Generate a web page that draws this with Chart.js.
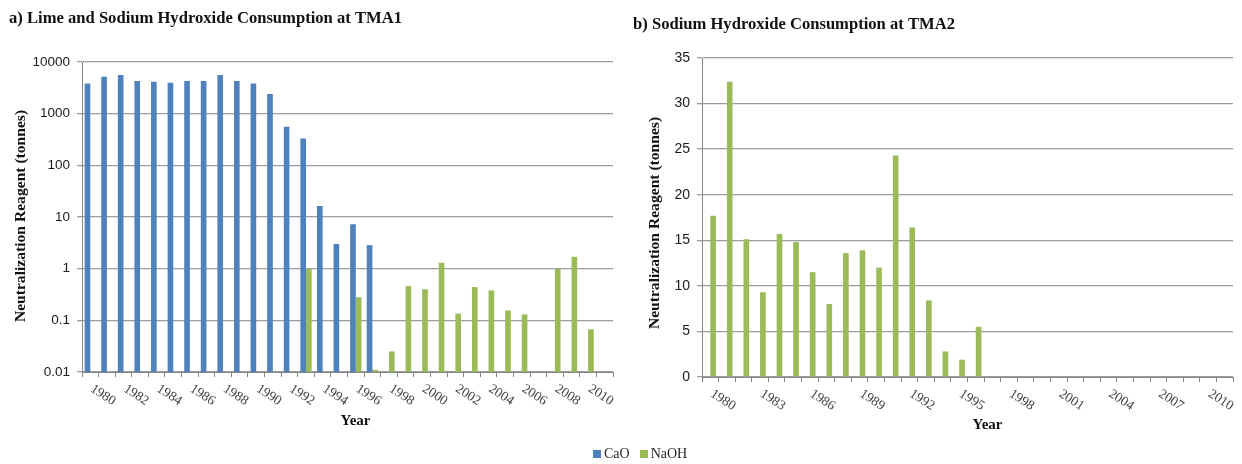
<!DOCTYPE html>
<html>
<head>
<meta charset="utf-8">
<script src="https://cdn.jsdelivr.net/npm/chart.js@4.4.1/dist/chart.umd.min.js"></script>
<style>
  html, body { margin: 0; padding: 0; background: #fff; }
  #page { position: relative; width: 1242px; height: 464px; overflow: hidden; }
  #boxA { position: absolute; left: 0; top: 0; width: 620px; height: 464px; }
  #boxB { position: absolute; left: 620px; top: 0; width: 622px; height: 464px; }
  #legend { position: absolute; left: 593px; top: 446px; height: 16px; display: flex; align-items: center;
            font: 14px "Liberation Serif", serif; color: #262626; }
  .key { display: flex; align-items: center; margin-right: 10px; }
  .sw { width: 8px; height: 8px; margin-right: 3px; }
</style>
</head>
<body>
<div id="page">
  <div id="boxA"><canvas id="chartA" width="620" height="464"></canvas></div>
  <div id="boxB"><canvas id="chartB" width="622" height="464"></canvas></div>
  <div id="legend"></div>
</div>
<script>
// Years on both category axes (1980 - 2011)
const years = [1980, 1981, 1982, 1983, 1984, 1985, 1986, 1987, 1988, 1989,
               1990, 1991, 1992, 1993, 1994, 1995, 1996, 1997, 1998, 1999,
               2000, 2001, 2002, 2003, 2004, 2005, 2006, 2007, 2008, 2009,
               2010, 2011];

const seriesNames = ['CaO', 'NaOH'];

// TMA1: lime (CaO) consumption, tonnes
const caoTMA1 = [3850, 5200, 5600, 4300, 4150, 3950, 4300, 4300, 5600, 4300,
                 3850, 2400, 560, 330, 16.4, 3.0, 7.2, 2.85, null, null,
                 null, null, null, null, null, null, null, null, null, null,
                 null, null];

// TMA1: sodium hydroxide (NaOH) consumption, tonnes
const naohTMA1 = [null, null, null, null, null, null, null, null, null, null,
                  null, null, null, 1.0, null, null, 0.28, 0.011, 0.025, 0.46,
                  0.40, 1.3, 0.135, 0.44, 0.38, 0.155, 0.13, null, 1.0, 1.7,
                  0.067, null];

// TMA2: no lime used, sodium hydroxide only
const caoTMA2 = [];
const naohTMA2 = [17.7, 32.4, 15.1, 9.3, 15.7, 14.8, 11.5, 8.0, 13.6, 13.9,
                  12.0, 24.3, 16.4, 8.4, 2.8, 1.9, 5.5, null, null, null,
                  null, null, null, null, null, null, null, null, null, null,
                  null, null];

// Axis tick labels
const yTicksTMA1 = [0.01, 0.1, 1, 10, 100, 1000, 10000];
const yTickTextTMA1 = ['0.01', '0.1', '1', '10', '100', '1000', '10000'];
const xTicksTMA1 = [1980, 1982, 1984, 1986, 1988, 1990, 1992, 1994, 1996, 1998,
                    2000, 2002, 2004, 2006, 2008, 2010];
const xTicksTMA2 = [1980, 1983, 1986, 1989, 1992, 1995, 1998, 2001, 2004, 2007, 2010];

const COLORS = { CaO: '#4F81BD', NaOH: '#9BBB59' };
const GRID = '#9c9c9c';
const AXIS = '#868686';

// Headings, axis titles and slanted year labels for each panel
const panelText = {
  chartA: {
    heading: 'a) Lime and Sodium Hydroxide Consumption at TMA1', headingX: 9, headingY: 19,
    yTitle: 'Neutralization Reagent (tonnes)', yTitleX: 21, yTitleY: 216,
    xTitle: 'Year', xTitleShift: 8, xTitleY: 421,
    tickYears: xTicksTMA1
  },
  chartB: {
    heading: 'b) Sodium Hydroxide Consumption at TMA2', headingX: 13, headingY: 25,
    yTitle: 'Neutralization Reagent (tonnes)', yTitleX: 35, yTitleY: 223,
    xTitle: 'Year', xTitleShift: 20, xTitleY: 425,
    tickYears: xTicksTMA2
  }
};

const panelTextPlugin = {
  id: 'panelText',
  afterDraw(chart) {
    const t = panelText[chart.canvas.id];
    const { ctx, chartArea: a } = chart;
    const x = chart.scales.x;
    ctx.save();
    ctx.fillStyle = '#111';

    ctx.font = 'bold 16.6px "Liberation Serif"';
    ctx.textAlign = 'left';
    ctx.textBaseline = 'middle';
    ctx.fillText(t.heading, t.headingX, t.headingY);

    ctx.save();
    ctx.translate(t.yTitleX, t.yTitleY);
    ctx.rotate(-Math.PI / 2);
    ctx.font = 'bold 15.6px "Liberation Serif"';
    ctx.textAlign = 'center';
    ctx.fillText(t.yTitle, 0, 0);
    ctx.restore();

    ctx.font = 'bold 15px "Liberation Serif"';
    ctx.textAlign = 'center';
    ctx.fillText(t.xTitle, (a.left + a.right) / 2 + t.xTitleShift, t.xTitleY);

    // year labels slanted downwards to the right
    ctx.font = '13.5px "Liberation Serif"';
    ctx.fillStyle = '#404040';
    ctx.textAlign = 'left';
    ctx.textBaseline = 'top';
    t.tickYears.forEach(yr => {
      const px = x.getPixelForValue(years.indexOf(yr));
      ctx.save();
      ctx.translate(px + 5, a.bottom + 10);
      ctx.rotate(33 * Math.PI / 180);
      ctx.fillText(String(yr), 0, 0);
      ctx.restore();
    });
    ctx.restore();
  }
};

function xAxis(height) {
  return {
    type: 'category',
    offset: true,
    grid: { offset: true, drawOnChartArea: false, drawTicks: true, tickLength: 5, color: AXIS },
    border: { color: AXIS, width: 1 },
    ticks: { display: false },
    afterFit: s => { s.height = height; }
  };
}

function datasets(cao, naoh) {
  return [
    { label: seriesNames[0], data: cao, backgroundColor: COLORS.CaO,
      categoryPercentage: 0.68, barPercentage: 1.0 },
    { label: seriesNames[1], data: naoh, backgroundColor: COLORS.NaOH,
      categoryPercentage: 0.68, barPercentage: 1.0 }
  ];
}

const tickFont = { family: 'Liberation Sans', size: 13.5 };

new Chart(document.getElementById('chartA'), {
  type: 'bar',
  data: { labels: years, datasets: datasets(caoTMA1, naohTMA1) },
  plugins: [panelTextPlugin],
  options: {
    responsive: false,
    animation: false,
    events: [],
    layout: { padding: { top: 62, right: 7, bottom: 20, left: 0 } },
    plugins: { legend: { display: false }, title: { display: false }, tooltip: { enabled: false } },
    scales: {
      x: xAxis(72),
      y: {
        type: 'logarithmic',
        min: 0.01,
        max: 10000,
        afterBuildTicks: s => { s.ticks = yTicksTMA1.map(v => ({ value: v })); },
        ticks: {
          font: tickFont, color: '#1a1a1a', padding: 7,
          callback: v => yTickTextTMA1[yTicksTMA1.indexOf(v)]
        },
        grid: { color: GRID, lineWidth: 1.3, tickLength: 5, drawTicks: true },
        border: { color: AXIS, width: 1 },
        afterFit: s => { s.width = 82; }
      }
    }
  }
});

new Chart(document.getElementById('chartB'), {
  type: 'bar',
  data: { labels: years, datasets: datasets(caoTMA2, naohTMA2) },
  plugins: [panelTextPlugin],
  options: {
    responsive: false,
    animation: false,
    events: [],
    layout: { padding: { top: 58, right: 9, bottom: 20, left: 0 } },
    plugins: { legend: { display: false }, title: { display: false }, tooltip: { enabled: false } },
    scales: {
      x: xAxis(67),
      y: {
        type: 'linear',
        min: 0,
        max: 35,
        ticks: { stepSize: 5, font: { family: 'Liberation Sans', size: 14 }, color: '#1a1a1a', padding: 7 },
        grid: { color: GRID, lineWidth: 1.3, tickLength: 5, drawTicks: true },
        border: { color: AXIS, width: 1 },
        afterFit: s => { s.width = 82; }
      }
    }
  }
});

// Shared legend below both panels
const legend = document.getElementById('legend');
seriesNames.forEach(name => {
  const item = document.createElement('span');
  item.className = 'key';
  const sw = document.createElement('span');
  sw.className = 'sw';
  sw.style.background = COLORS[name];
  item.appendChild(sw);
  item.appendChild(document.createTextNode(name));
  legend.appendChild(item);
});
</script>
</body>
</html>
